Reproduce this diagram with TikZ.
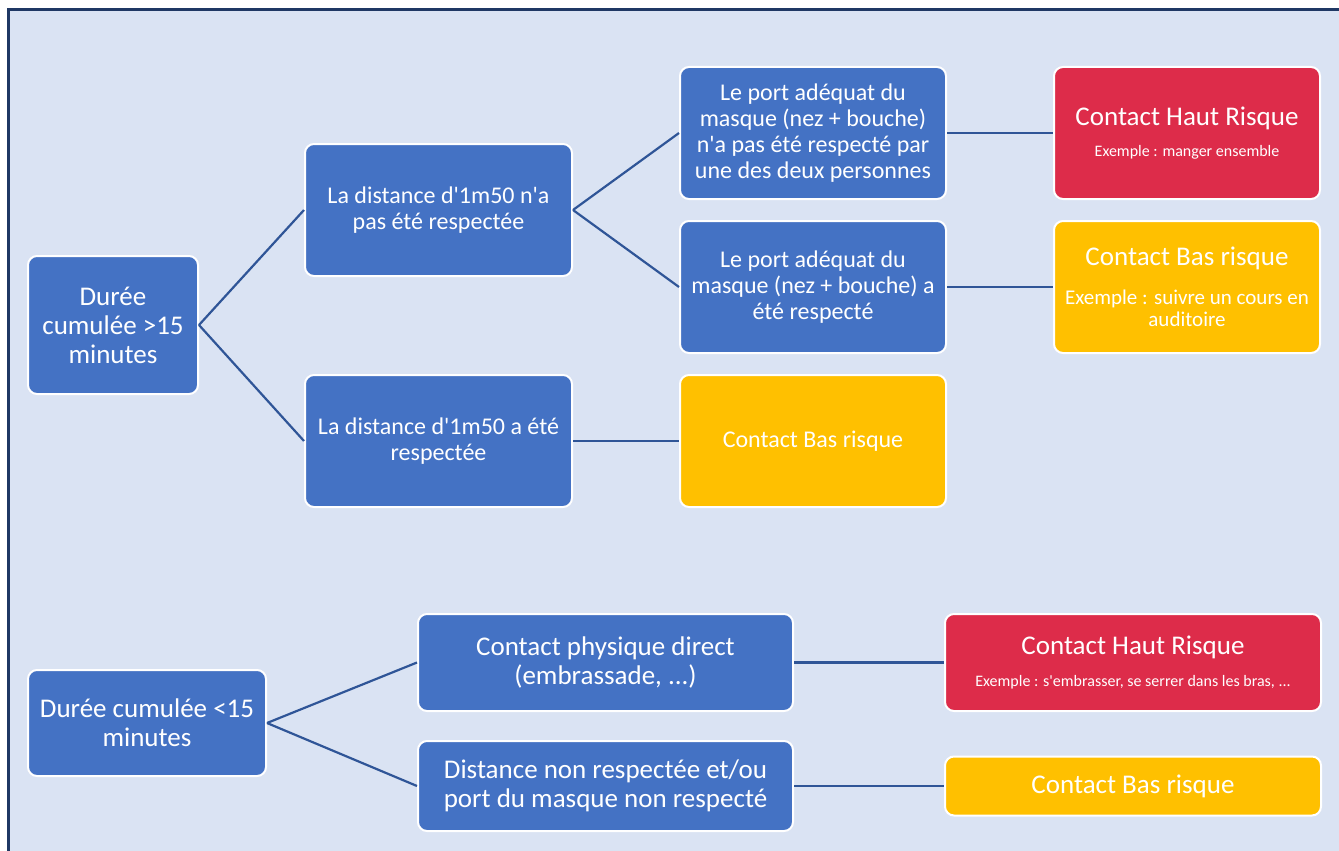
\documentclass[tikz,border=0pt]{standalone}
\usepackage{fontspec}
\setmainfont{Carlito}
\definecolor{fondbleu}{HTML}{DAE3F3}
\definecolor{cadre}{HTML}{1F3864}
\definecolor{boitebleu}{HTML}{4472C4}
\definecolor{lien}{HTML}{2F5597}
\definecolor{rouge}{HTML}{DD2C4A}
\definecolor{jaune}{HTML}{FFC000}
\newcommand{\apos}{\textquotesingle}

\tikzset{
  boite/.style={draw=white, line width=2pt, rounded corners=9pt, fill=boitebleu,
    text=white, align=center, inner sep=0pt},
  haut/.style={boite, fill=rouge},
  bas/.style={boite, fill=jaune},
  lien/.style={draw=lien, line width=2.2pt},
  gros/.style={font=\fontsize{27}{29}\selectfont},
  moyen/.style={font=\fontsize{24}{26}\selectfont}
}

\begin{document}
\begin{tikzpicture}[x=1pt, y=-1pt]
  \useasboundingbox (0,0) rectangle (1339,851);
  \clip (0,0) rectangle (1339,851);
  \fill[white] (0,0) rectangle (1339,851);
  \filldraw[fill=fondbleu, draw=cadre, line width=3pt] (8,9.5) rectangle (1360,880);

  % duree > 15 minutes
  \node[boite, gros, minimum width=170, minimum height=138] (plus) at (113,325)
    {Durée\\ cumulée >15\\ minutes};
  \node[boite, moyen, minimum width=267, minimum height=132] (nonresp) at (438.5,210)
    {La distance d\apos1m50 n\apos a\\ pas été respectée};
  \node[boite, moyen, minimum width=267, minimum height=132] (resp) at (438.5,441)
    {La distance d\apos1m50 a été\\ respectée};
  \node[boite, moyen, minimum width=266, minimum height=132] (masquenon) at (813,133)
    {Le port adéquat du\\ masque (nez + bouche)\\ n\apos a pas été respecté par\\ une des deux personnes};
  \node[boite, moyen, minimum width=266, minimum height=132] (masqueoui) at (813,287)
    {Le port adéquat du\\ masque (nez + bouche) a\\ été respecté};
  \node[bas, moyen, minimum width=266, minimum height=132] (bas1) at (813,441)
    {Contact Bas risque};
  \node[haut, gros, minimum width=266, minimum height=132] (haut1) at (1187,133)
    {Contact Haut Risque\\[2pt]
     {\fontsize{16}{19}\selectfont Exemple : manger ensemble}};
  \node[bas, font=\fontsize{21}{22}\selectfont, minimum width=266, minimum height=132] (bas2) at (1187,287)
    {{\fontsize{27}{29}\selectfont Contact Bas risque}\\[17pt]
     Exemple : suivre un cours en\\ auditoire};

  \draw[lien] (plus.east) -- (nonresp.west);
  \draw[lien] (plus.east) -- (resp.west);
  \draw[lien] (nonresp.east) -- (masquenon.west);
  \draw[lien] (nonresp.east) -- (masqueoui.west);
  \draw[lien] (resp.east) -- (bas1.west);
  \draw[lien] (masquenon.east) -- (haut1.west);
  \draw[lien] (masqueoui.east) -- (bas2.west);

  % duree < 15 minutes
  \node[boite, gros, minimum width=238, minimum height=106] (moins) at (147,723)
    {Durée cumulée <15\\ minutes};
  \node[boite, gros, minimum width=375, minimum height=97] (physique) at (605.5,662.5)
    {Contact physique direct\\ (embrassade, ...)};
  \node[boite, gros, minimum width=375, minimum height=90] (distance) at (605.5,786)
    {Distance non respectée et/ou\\ port du masque non respecté};
  \node[haut, gros, minimum width=376, minimum height=97] (haut2) at (1133,662.5)
    {Contact Haut Risque\\[3pt]
     {\fontsize{16}{19}\selectfont Exemple : s\apos embrasser, se serrer dans les bras, ...}};
  \node[bas, gros, minimum width=376, minimum height=59] (bas3) at (1133,786)
    {Contact Bas risque};

  \draw[lien] (moins.east) -- (physique.west);
  \draw[lien] (moins.east) -- (distance.west);
  \draw[lien] (physique.east) -- (haut2.west);
  \draw[lien] (distance.east) -- (bas3.west);
\end{tikzpicture}
\end{document}
